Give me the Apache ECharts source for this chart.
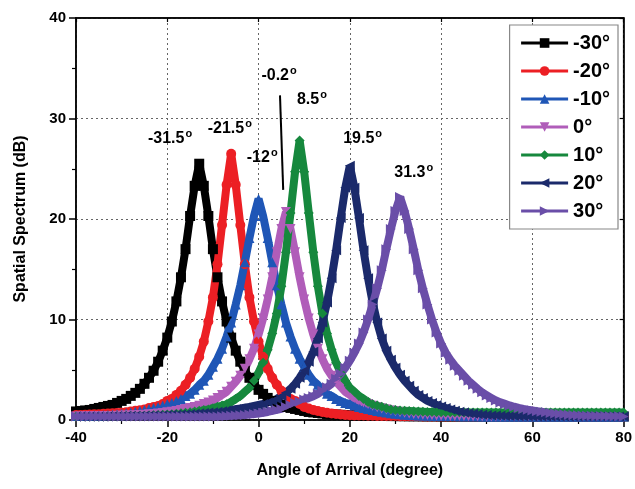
<!DOCTYPE html>
<html>
<head>
<meta charset="utf-8">
<script src="https://cdn.jsdelivr.net/npm/echarts@6/dist/echarts.min.js"></script>
<style>
  html, body { margin: 0; padding: 0; background: #fff; }
  #chart { width: 635px; height: 489px; }
</style>
</head>
<body>
<div id="chart"></div>
<script>
var FONT = 'Liberation Sans, Arial, sans-serif';

var angles = [
  -40,-39,-38,-37,-36,-35,-34,-33,-32,-31,-30,-29,-28,-27,-26,-25,-24,-23,-22,-21,
  -20,-19,-18,-17,-16,-15,-14,-13,-12,-11,-10,-9,-8,-7,-6,-5,-4,-3,-2,-1,
  0,1,2,3,4,5,6,7,8,9,10,11,12,13,14,15,16,17,18,19,
  20,21,22,23,24,25,26,27,28,29,30,31,32,33,34,35,36,37,38,39,
  40,41,42,43,44,45,46,47,48,49,50,51,52,53,54,55,56,57,58,59,
  60,61,62,63,64,65,66,67,68,69,70,71,72,73,74,75,76,77,78,79,80
];

// spectrum (dB), one value per degree from -40 to 80
var specM30 = [
  0.85,0.9,0.95,1.0,1.1,1.2,1.3,1.4,1.5,1.7,
  1.9,2.1,2.4,2.7,3.1,3.6,4.2,4.9,5.8,6.9,
  8.2,9.8,11.8,14.2,17.0,20.3,23.3,25.5,23.3,20.3,
  17.0,14.2,11.8,9.8,8.2,6.9,5.8,4.9,4.2,3.6,
  3.0,2.6,2.2,1.9,1.7,1.5,1.3,1.2,1.1,1.0,
  0.9,0.8,0.75,0.7,0.65,0.6,0.57,0.54,0.52,0.5,
  0.48,0.46,0.45,0.44,0.43,0.42,0.41,0.40,0.40,0.39,
  0.39,0.38,0.38,0.37,0.37,0.37,0.36,0.36,0.36,0.36,
  0.35,0.35,0.35,0.35,0.35,0.35,0.35,0.35,0.35,0.35,
  0.35,0.35,0.35,0.35,0.35,0.35,0.35,0.35,0.35,0.35,
  0.35,0.35,0.35,0.35,0.35,0.35,0.35,0.35,0.35,0.35,
  0.35,0.35,0.35,0.35,0.35,0.35,0.35,0.35,0.35,0.35,0.35
];
var specM20 = [
  0.49,0.5,0.52,0.54,0.56,0.58,0.61,0.64,0.66,0.69,
  0.71,0.78,0.84,0.91,0.97,1.05,1.2,1.3,1.4,1.6,
  1.9,2.1,2.5,2.9,3.5,4.2,5.1,6.3,7.8,9.8,
  12.2,15.5,19.4,23.4,26.5,23.4,19.4,15.5,12.2,9.8,
  7.8,6.3,5.1,4.2,3.5,2.9,2.5,2.1,1.9,1.6,
  1.3,1.15,1.0,0.9,0.8,0.72,0.65,0.6,0.55,0.5,
  0.48,0.46,0.45,0.44,0.43,0.42,0.41,0.40,0.40,0.39,
  0.39,0.38,0.38,0.37,0.37,0.37,0.36,0.36,0.36,0.36,
  0.35,0.35,0.35,0.35,0.35,0.35,0.35,0.35,0.35,0.35,
  0.35,0.35,0.35,0.35,0.35,0.35,0.35,0.35,0.35,0.35,
  0.35,0.35,0.35,0.35,0.35,0.35,0.35,0.35,0.35,0.35,
  0.35,0.35,0.35,0.35,0.35,0.35,0.35,0.35,0.35,0.35,0.35
];
var specM10 = [
  0.40,0.41,0.42,0.43,0.44,0.46,0.48,0.5,0.53,0.57,
  0.62,0.68,0.75,0.82,0.9,1.0,1.1,1.2,1.3,1.45,
  1.6,1.7,1.9,2.1,2.4,2.6,3.0,3.5,3.9,4.5,
  5.3,6.1,7.1,8.3,9.7,11.5,13.4,15.7,18.1,20.3,
  22.0,20.3,18.1,15.7,13.4,11.5,9.7,8.3,7.1,6.1,
  5.3,4.5,3.9,3.5,3.0,2.6,2.4,2.1,1.9,1.7,
  1.6,1.45,1.3,1.2,1.1,1.0,0.9,0.82,0.75,0.68,
  0.62,0.57,0.53,0.5,0.48,0.46,0.44,0.43,0.42,0.41,
  0.40,0.40,0.39,0.39,0.38,0.38,0.37,0.37,0.37,0.36,
  0.35,0.35,0.35,0.35,0.35,0.35,0.35,0.35,0.35,0.35,
  0.35,0.35,0.35,0.35,0.35,0.35,0.35,0.35,0.35,0.35,
  0.35,0.35,0.35,0.35,0.35,0.35,0.35,0.35,0.35,0.35,0.35
];
var spec0 = [
  0.36,0.36,0.37,0.37,0.38,0.38,0.39,0.40,0.41,0.42,
  0.43,0.44,0.46,0.48,0.5,0.53,0.56,0.6,0.65,0.7,
  0.76,0.83,0.9,1.0,1.1,1.2,1.3,1.43,1.58,1.74,
  1.95,2.2,2.5,2.8,3.3,3.8,4.4,5.1,6.05,7.1,
  8.5,10.1,12.0,14.2,16.7,19.0,20.7,19.0,16.7,14.2,
  12.0,10.1,8.5,7.1,6.05,5.1,4.4,3.8,3.3,2.8,
  2.5,2.2,1.95,1.74,1.58,1.43,1.28,1.15,1.05,0.95,
  0.86,0.78,0.71,0.65,0.6,0.56,0.52,0.49,0.47,0.45,
  0.43,0.42,0.41,0.40,0.39,0.39,0.38,0.38,0.37,0.37,
  0.36,0.36,0.36,0.36,0.36,0.35,0.35,0.35,0.35,0.35,
  0.35,0.35,0.35,0.35,0.35,0.35,0.35,0.35,0.35,0.35,
  0.35,0.35,0.35,0.35,0.35,0.35,0.35,0.35,0.35,0.35,0.35
];
var specP10 = [
  0.35,0.35,0.35,0.35,0.36,0.36,0.36,0.37,0.37,0.38,
  0.38,0.39,0.40,0.41,0.42,0.43,0.45,0.47,0.49,0.52,
  0.55,0.58,0.62,0.66,0.71,0.77,0.84,0.92,0.99,1.05,
  1.18,1.31,1.44,1.57,1.8,2.1,2.4,2.8,3.2,3.9,
  4.7,5.7,7.0,8.6,10.6,13.3,16.7,20.6,24.7,27.8,
  24.7,20.6,16.7,13.3,10.6,8.6,7.0,5.7,4.7,3.9,
  3.2,2.8,2.4,2.1,1.8,1.57,1.44,1.31,1.18,1.05,
  0.99,0.95,0.92,0.89,0.86,0.84,0.82,0.80,0.79,0.78,
  0.78,0.77,0.77,0.76,0.76,0.75,0.75,0.75,0.75,0.75,
  0.75,0.75,0.75,0.75,0.75,0.75,0.75,0.75,0.75,0.75,
  0.75,0.75,0.75,0.75,0.75,0.75,0.75,0.75,0.75,0.75,
  0.75,0.75,0.75,0.75,0.75,0.75,0.75,0.75,0.75,0.75,0.75
];
var specP20 = [
  0.35,0.35,0.35,0.35,0.36,0.36,0.36,0.37,0.37,0.38,
  0.38,0.39,0.39,0.40,0.41,0.42,0.43,0.44,0.45,0.47,
  0.49,0.51,0.53,0.55,0.57,0.6,0.63,0.66,0.7,0.74,
  0.78,0.83,0.88,0.94,1.0,1.07,1.14,1.22,1.3,1.4,
  1.5,1.6,1.75,1.9,2.1,2.4,2.7,3.1,3.6,4.2,
  4.9,5.8,6.8,8.1,9.7,11.7,14.1,16.9,20.1,23.1,
  25.3,23.1,20.1,16.9,14.1,11.7,9.7,8.1,6.9,6.0,
  5.2,4.5,3.9,3.4,2.9,2.5,2.2,1.9,1.7,1.5,
  1.35,1.2,1.05,0.92,0.82,0.74,0.67,0.61,0.56,0.52,
  0.49,0.46,0.44,0.42,0.41,0.40,0.39,0.38,0.37,0.37,
  0.36,0.36,0.36,0.36,0.35,0.35,0.35,0.35,0.35,0.35,
  0.35,0.35,0.35,0.35,0.35,0.35,0.35,0.35,0.35,0.35,0.35
];
var specP30 = [
  0.35,0.35,0.35,0.35,0.35,0.35,0.35,0.35,0.35,0.35,
  0.35,0.35,0.35,0.35,0.35,0.35,0.35,0.35,0.35,0.35,
  0.35,0.35,0.35,0.35,0.35,0.35,0.35,0.35,0.35,0.35,
  0.35,0.36,0.38,0.40,0.42,0.44,0.47,0.50,0.55,0.60,
  0.65,0.72,0.80,0.90,1.0,1.1,1.3,1.5,1.69,1.82,
  2.05,2.18,2.36,2.6,2.9,3.25,3.6,4.1,4.6,5.2,
  5.9,6.7,7.6,8.7,10.0,11.5,13.1,14.9,17.0,19.0,
  20.8,22.2,20.8,19.0,17.0,14.9,13.1,11.5,10.0,8.7,
  7.6,6.7,6.0,5.4,4.9,4.4,3.9,3.5,3.1,2.75,
  2.45,2.2,1.95,1.75,1.6,1.45,1.32,1.2,1.1,1.02,
  0.95,0.88,0.82,0.76,0.70,0.65,0.60,0.56,0.52,0.49,
  0.47,0.45,0.43,0.42,0.41,0.40,0.39,0.38,0.37,0.37,0.36
];

var seriesNames = ['-30°', '-20°', '-10°', '0°', '10°', '20°', '30°'];
var seriesValues = [specM30, specM20, specM10, spec0, specP10, specP20, specP30];
var seriesColors = ['#000000', '#ec1f24', '#1f56b6', '#b05db9', '#16883d', '#1b2a6b', '#6a4ea8'];
var seriesSymbols = ['rect', 'circle', 'triangle', 'triangle', 'diamond', 'triangle', 'triangle'];
var seriesRotate = [0, 0, 0, 180, 0, 90, -90];

// peak annotations: [angle, dB, text]
var peakLabels = [
  [-19.4, 28.1, '-31.5'],
  [-6.3, 29.1, '-21.5'],
  [0.8, 26.2, '-12'],
  [4.5, 34.4, '-0.2'],
  [11.7, 32.0, '8.5'],
  [22.8, 28.1, '19.5'],
  [34.0, 24.7, '31.3']
];
var arrowFrom = [4.7, 32.3];
var arrowTo = [5.4, 22.9];

var chart = echarts.init(document.getElementById('chart'));

var series = seriesValues.map(function (vals, k) {
  return {
    name: seriesNames[k],
    type: 'line',
    symbol: seriesSymbols[k],
    symbolRotate: seriesRotate[k],
    symbolSize: 10,
    showAllSymbol: true,
    lineStyle: { color: seriesColors[k], width: 8 },
    itemStyle: { color: seriesColors[k] },
    data: angles.map(function (a, i) { return [a, vals[i]]; })
  };
});

series.push({
  name: 'labels',
  type: 'scatter',
  silent: true,
  symbol: 'circle',
  symbolSize: 1,
  z: 5,
  itemStyle: { color: '#ffffff', opacity: 1 },
  label: {
    show: true,
    position: 'inside',
    color: '#000',
    textBorderWidth: 0,
    fontFamily: FONT,
    fontWeight: 'bold',
    fontSize: 15,
    formatter: function (p) { return '{b|' + p.data[2] + '}{s|o}'; },
    rich: {
      b: { fontFamily: FONT, fontWeight: 'bold', fontSize: 16, color: '#000', lineHeight: 18, verticalAlign: 'bottom' },
      s: { fontFamily: FONT, fontWeight: 'bold', fontSize: 11, color: '#000', lineHeight: 18, verticalAlign: 'top', padding: [0, 0, 6, 1] }
    }
  },
  data: peakLabels,
  markLine: {
    silent: true,
    symbol: ['none', 'arrow'],
    symbolSize: [0, 10],
    lineStyle: { color: '#000', width: 2, type: 'solid' },
    label: { show: false },
    data: [[{ coord: arrowFrom }, { coord: arrowTo }]]
  }
});

var option = {
  animation: false,
  backgroundColor: '#fff',
  grid: { left: 76, right: 11, top: 18, bottom: 69, show: true, borderColor: '#000', borderWidth: 1.5 },
  legend: {
    data: seriesNames,
    orient: 'vertical',
    right: 17,
    top: 25,
    padding: [8, 8, 8, 10],
    itemGap: 8,
    itemWidth: 47,
    itemHeight: 12,
    backgroundColor: '#fff',
    borderColor: '#888',
    borderWidth: 1.2,
    lineStyle: { width: 3 },
    textStyle: { fontFamily: FONT, fontWeight: 'bold', fontSize: 20, color: '#000' }
  },
  xAxis: [{
    type: 'value',
    min: -40, max: 80, interval: 20,
    name: 'Angle of Arrival (degree)',
    nameLocation: 'middle',
    nameGap: 43,
    nameTextStyle: { fontFamily: FONT, fontWeight: 'bold', fontSize: 16, color: '#000' },
    axisLine: { show: true, onZero: false, lineStyle: { color: '#000', width: 1.5 } },
    axisTick: { show: true, inside: false, length: 7, lineStyle: { color: '#000', width: 1.5 } },
    minorTick: { show: true, splitNumber: 2, length: 4, lineStyle: { color: '#000', width: 1.2 } },
    axisLabel: { fontFamily: FONT, fontWeight: 'bold', fontSize: 15, color: '#000', margin: 10 },
    splitLine: { show: true, lineStyle: { color: '#666', type: [2, 3], width: 1 } }
  }, {
    type: 'value', position: 'top',
    min: -40, max: 80, interval: 20,
    axisLine: { show: true, onZero: false, lineStyle: { color: '#000', width: 1.5 } },
    axisTick: { show: true, inside: true, length: 4, lineStyle: { color: '#000', width: 1.2 } },
    axisLabel: { show: false },
    splitLine: { show: false }
  }],
  yAxis: [{
    type: 'value',
    min: 0, max: 40, interval: 10,
    name: 'Spatial Spectrum (dB)',
    nameLocation: 'middle',
    nameGap: 47,
    nameTextStyle: { fontFamily: FONT, fontWeight: 'bold', fontSize: 16, color: '#000' },
    axisLine: { show: true, onZero: false, lineStyle: { color: '#000', width: 1.5 } },
    axisTick: { show: true, inside: false, length: 7, lineStyle: { color: '#000', width: 1.5 } },
    minorTick: { show: true, splitNumber: 2, length: 4, lineStyle: { color: '#000', width: 1.2 } },
    axisLabel: { fontFamily: FONT, fontWeight: 'bold', fontSize: 15, color: '#000', margin: 10 },
    splitLine: { show: true, lineStyle: { color: '#666', type: [2, 3], width: 1 } }
  }, {
    type: 'value', position: 'right',
    min: 0, max: 40, interval: 10,
    axisLine: { show: true, onZero: false, lineStyle: { color: '#000', width: 1.5 } },
    axisTick: { show: true, inside: true, length: 4, lineStyle: { color: '#000', width: 1.2 } },
    axisLabel: { show: false },
    splitLine: { show: false }
  }],
  series: series
};

chart.setOption(option);
</script>
</body>
</html>
